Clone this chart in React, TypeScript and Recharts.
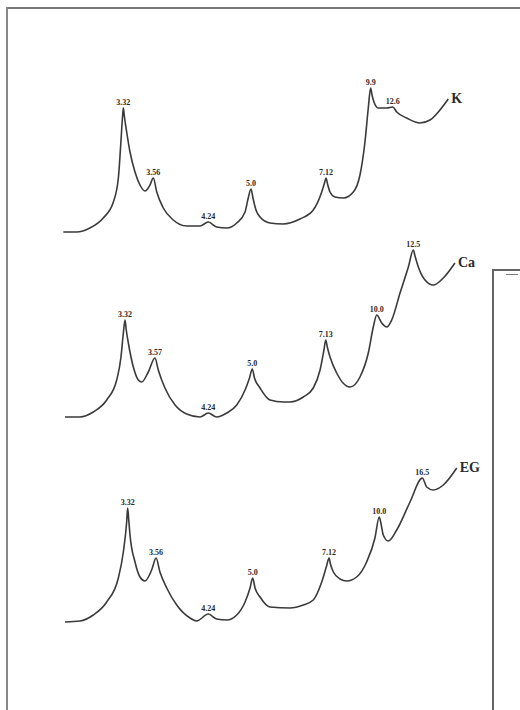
import React from 'react';
import { LineChart, Line, XAxis, YAxis, LabelList } from 'recharts';

// 2-theta (deg) and relative intensity for each treatment
const kTheta = [31.26, 30.3, 29.34, 28.38, 27.65, 27.29, 27.12, 26.98, 26.93, 26.86, 26.69, 26.45, 26.09, 25.73, 25.37, 25.01, 24.77, 24.52, 24.05, 23.33, 22.36, 21.4, 20.8, 20.2, 19.47, 18.75, 18.15, 17.92, 17.72, 17.58, 17.36, 17.07, 16.35, 15.41, 14.19, 13.23, 12.62, 12.42, 12.31, 12.2, 12.02, 11.66, 11.06, 10.34, 9.86, 9.5, 9.26, 9.09, 8.99, 8.85, 8.54, 7.93, 7.5, 7.21, 6.49, 5.53, 4.81, 4.09, 3.49];
const kInt = [8, 8, 12, 22, 38, 62, 95, 125, 132, 124, 108, 88, 68, 55, 49, 55, 62, 48, 32, 20, 14, 14, 18, 13, 12, 17, 28, 42, 51, 42, 30, 23, 17, 16, 21, 30, 48, 57, 62, 56, 48, 43, 42, 48, 65, 98, 132, 152, 145, 138, 132, 132, 133, 128, 122, 117, 120, 130, 141];
const kPeaks: [number, string][] = [[26.93, '3.32'], [24.77, '3.56'], [20.8, '4.24'], [17.72, '5.0'], [12.31, '7.12'], [9.09, '9.9'], [7.5, '12.6']];

const caTheta = [31.14, 30.06, 29.1, 28.13, 27.41, 27.1, 26.93, 26.81, 26.72, 26.57, 26.21, 25.85, 25.61, 25.13, 24.65, 24.41, 23.93, 23.2, 22.36, 21.4, 20.8, 20.2, 19.47, 18.75, 18.15, 17.83, 17.63, 17.47, 17.07, 16.35, 15.39, 14.91, 13.95, 13.23, 12.74, 12.46, 12.33, 12.2, 12.02, 11.54, 11.08, 10.58, 9.86, 9.26, 8.9, 8.65, 8.29, 7.93, 7.57, 6.97, 6.37, 6.01, 5.89, 5.65, 5.17, 4.57, 3.85, 3.01];
const caInt = [13, 13, 18, 30, 50, 73, 97, 110, 100, 87, 63, 50, 48, 58, 72, 60, 42, 25, 16, 13, 17, 13, 17, 25, 40, 52, 61, 52, 42, 30, 28, 28, 33, 42, 60, 80, 90, 82, 73, 57, 47, 43, 53, 77, 103, 115, 107, 103, 110, 137, 163, 180, 174, 163, 150, 145, 152, 167];
const caPeaks: [number, string][] = [[26.81, '3.32'], [24.65, '3.57'], [20.8, '4.24'], [17.63, '5.0'], [12.33, '7.13'], [8.65, '10.0'], [6.01, '12.5']];

const egTheta = [31.14, 30.06, 29.1, 28.13, 27.29, 26.93, 26.69, 26.62, 26.54, 26.45, 26.09, 25.73, 25.37, 24.89, 24.57, 24.29, 23.8, 23.08, 22.12, 21.64, 20.8, 20.2, 19.47, 18.75, 18.15, 17.79, 17.6, 17.43, 17.07, 16.35, 14.91, 13.95, 13.23, 12.62, 12.27, 12.09, 11.99, 11.78, 11.3, 10.82, 10.1, 9.38, 8.78, 8.47, 8.34, 8.18, 7.82, 7.21, 6.25, 5.36, 5.05, 4.57, 3.85, 2.88];
const egInt = [18, 19, 25, 38, 62, 88, 118, 132, 120, 105, 78, 63, 59, 70, 82, 68, 52, 35, 22, 19, 26, 21, 20, 25, 38, 52, 62, 52, 43, 33, 32, 35, 40, 58, 74, 82, 76, 68, 61, 59, 63, 78, 102, 123, 116, 105, 99, 110, 138, 162, 153, 150, 155, 172];
const egPeaks: [number, string][] = [[26.62, '3.32'], [24.57, '3.56'], [20.8, '4.24'], [17.6, '5.0'], [12.09, '7.12'], [8.47, '10.0'], [5.36, '16.5']];

// vertical stacking offsets of the patterns
const offsets = { K: 470, Ca: 280, EG: 70 };

function build(theta: number[], inten: number[], peaks: [number, string][], off: number, name: string) {
  return theta.map((t, i) => {
    const pk = peaks.find((p) => p[0] === t);
    return {
      t,
      y: inten[i] + off,
      lab: pk ? pk[1] : undefined,
      nm: i === theta.length - 1 ? name : undefined,
    };
  });
}

const kData = build(kTheta, kInt, kPeaks, offsets.K, 'K');
const caData = build(caTheta, caInt, caPeaks, offsets.Ca, 'Ca');
const egData = build(egTheta, egInt, egPeaks, offsets.EG, 'EG');

const FONT = '"Liberation Serif", "Times New Roman", serif';
const INK = '#3a3a3a';

const PeakLabel = (p: any) => {
  if (!p.value) return null;
  return (
    <text x={p.x} y={p.y - 3} textAnchor="middle" fontSize={8} fontWeight="bold" fontFamily={FONT} fill="#2a2a2a">
      {p.value}
    </text>
  );
};

const NameLabel = (p: any) => {
  if (!p.value) return null;
  return (
    <text x={p.x + 3} y={p.y + 4} textAnchor="start" fontSize={14} fontWeight="bold" fontFamily={FONT} fill="#2a2a2a">
      {p.value}
    </text>
  );
};

const series = [
  { key: 'K', data: kData },
  { key: 'Ca', data: caData },
  { key: 'EG', data: egData },
];

export default function App() {
  return (
    <div style={{ position: 'absolute', left: 0, top: 0, width: 520, height: 710, background: '#fff', overflow: 'hidden' }}>
      <div style={{ position: 'absolute', left: 6, top: 7, width: 514, height: 1.5, background: '#777' }} />
      <div style={{ position: 'absolute', left: 6, top: 7, width: 1.5, height: 703, background: '#888' }} />
      <div style={{ position: 'absolute', left: 492, top: 269, width: 1.5, height: 441, background: '#666' }} />
      <div style={{ position: 'absolute', left: 492, top: 269, width: 28, height: 1.5, background: '#666' }} />
      <div style={{ position: 'absolute', left: 506, top: 274, width: 12, height: 1, background: '#777' }} />
      <div style={{ position: 'absolute', left: 0, top: 0 }}>
        <LineChart width={520} height={710} margin={{ top: 0, right: 58, bottom: 0, left: 60 }}>
          <XAxis type="number" dataKey="t" domain={[2.5, 31.5]} reversed hide allowDataOverflow />
          <YAxis type="number" domain={[0, 710]} hide allowDataOverflow />
          {series.map((s) => (
            <Line
              key={s.key}
              data={s.data}
              dataKey="y"
              type="monotoneX"
              stroke={INK}
              strokeWidth={1.6}
              dot={false}
              activeDot={false}
              isAnimationActive={false}
            >
              <LabelList dataKey="lab" content={PeakLabel} />
              <LabelList dataKey="nm" content={NameLabel} />
            </Line>
          ))}
        </LineChart>
      </div>
    </div>
  );
}
